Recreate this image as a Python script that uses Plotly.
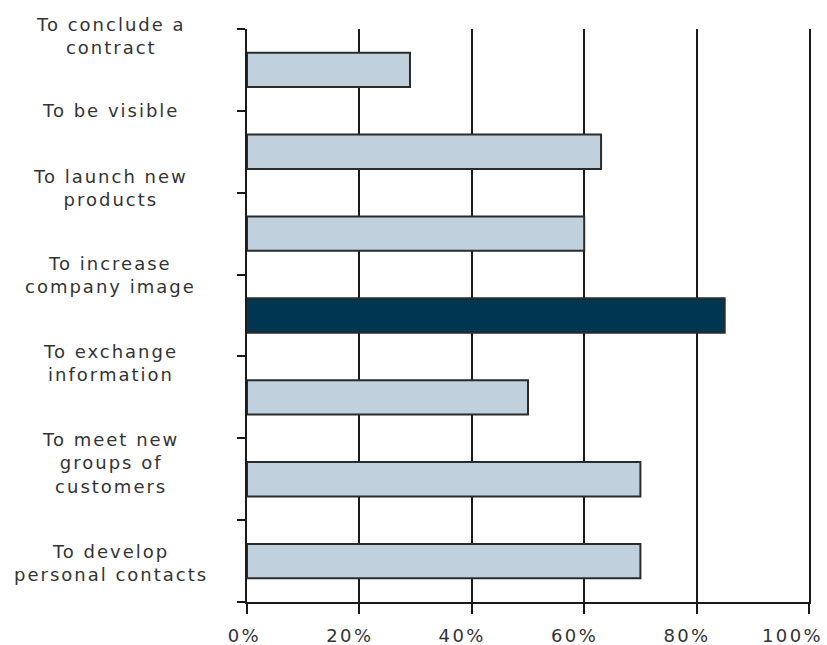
import plotly.graph_objects as go

# Reasons for attending, listed bottom to top
categories = [
    "To develop<br>personal contacts",
    "To meet new<br>groups of<br>customers",
    "To exchange<br>information",
    "To increase<br>company image",
    "To launch new<br>products",
    "To be visible",
    "To conclude a<br>contract",
]
share_pct = [70, 70, 50, 85, 60, 63, 29]
highlight = "To increase<br>company image"

x_tick_vals = [0, 20, 40, 60, 80, 100]
x_tick_text = ["0%", "20%", "40%", "60%", "80%", "100%"]

# vertical nudge of each category label relative to its bar (axis units)
label_shift = [-0.02, 0.20, 0.42, 0.50, 0.56, 0.50, 0.42]

LIGHT = "#c0d1dd"
DARK = "#00364f"
INK = "#1a1a1a"
TEXT = "#333333"
FONT = "DejaVu Sans"

positions = list(range(len(categories)))
colors = [DARK if c == highlight else LIGHT for c in categories]

fig = go.Figure(
    go.Bar(
        x=share_pct,
        y=positions,
        orientation="h",
        width=0.42,
        marker=dict(color=colors, line=dict(color="#2b2b2b", width=2)),
        hoverinfo="skip",
    )
)

for pos, name, shift in zip(positions, categories, label_shift):
    fig.add_annotation(
        x=-0.242, xref="paper", xanchor="center",
        y=pos + shift, yref="y", yanchor="middle",
        text=name, showarrow=False, align="center",
        font=dict(family=FONT, size=18, color=TEXT),
    )

fig.update_layout(
    width=827, height=645,
    margin=dict(l=247, r=18, t=29, b=43),
    paper_bgcolor="white", plot_bgcolor="white",
    showlegend=False,
    font=dict(family=FONT, size=18, color=TEXT),
)

# percentage labels sit right-aligned just past their tick
fig.update_xaxes(
    range=[0, 100],
    tickvals=x_tick_vals, ticktext=x_tick_text,
    showgrid=True, gridcolor=INK, gridwidth=2,
    showline=True, linecolor=INK, linewidth=2,
    ticks="outside", ticklen=10, tickwidth=2, tickcolor=INK,
    ticklabelposition="outside left", ticklabelshift=16,
    ticklabelstandoff=16, ticklabeloverflow="allow",
    automargin=False, zeroline=False, fixedrange=True,
)

fig.update_yaxes(
    range=[-0.5, len(categories) - 0.5],
    tickvals=[p - 0.5 for p in range(len(categories) + 1)],
    showticklabels=False,
    showgrid=False, zeroline=False,
    showline=True, mirror=True, linecolor=INK, linewidth=2,
    ticks="outside", ticklen=8, tickwidth=2, tickcolor=INK,
    automargin=False, fixedrange=True,
)

# wider tracking for the category and percentage labels
spacing_css = """
var s = document.createElement('style');
s.textContent = '.annotation-text { letter-spacing: 2px; } .xtick text { letter-spacing: 2.4px; }';
document.head.appendChild(s);
"""

fig.write_html("out.html", post_script=spacing_css)
